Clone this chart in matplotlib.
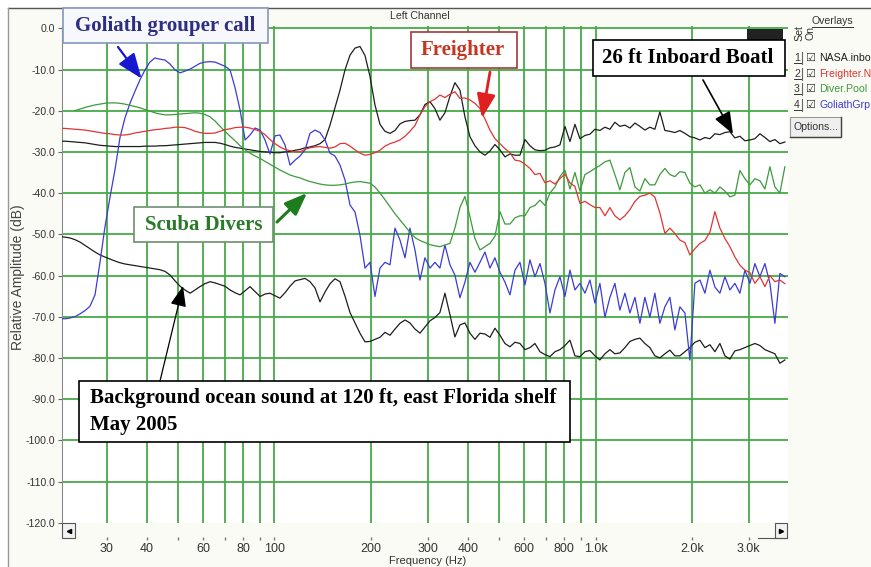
import matplotlib
matplotlib.use('Agg')
from matplotlib import pyplot as plt
from matplotlib.patches import Rectangle

plt.rcParams['font.family'] = ['Liberation Sans', 'DejaVu Sans']

W, H = 871, 567

# frequency bins (Hz) shared by all overlays
freq = [21.8, 22.3, 23.1, 23.9, 24.8, 25.7, 26.6, 27.6, 28.6, 29.6,
        30.7, 31.9, 33.0, 34.2, 35.5, 36.8, 38.1, 39.5, 40.9, 42.4,
        44.0, 45.6, 47.3, 49.0, 50.8, 52.6, 54.6, 56.6, 58.6, 60.7,
        63.0, 65.3, 67.7, 70.1, 72.7, 75.4, 78.1, 81.0, 83.9, 87.0,
        90.2, 93.4, 96.8, 100.4, 104.0, 107.8, 111.8, 115.9, 120.1, 124.5,
        129.0, 133.7, 138.6, 143.7, 148.9, 154.3, 160.0, 165.8, 171.9, 178.2,
        184.6, 191.4, 198.4, 205.6, 213.1, 220.9, 229.0, 237.3, 246.0, 255.0,
        264.2, 273.9, 283.9, 294.2, 305.0, 316.1, 327.6, 339.6, 352.0, 364.8,
        378.2, 392.0, 406.3, 421.1, 436.6, 452.5, 469.0, 486.1, 504.0, 522.3,
        541.4, 561.2, 581.6, 602.9, 624.9, 647.7, 671.4, 695.9, 721.3, 747.6,
        774.9, 803.2, 832.5, 862.9, 894.4, 927.1, 960.9, 996.0, 1032, 1070,
        1109, 1149, 1191, 1235, 1280, 1327, 1375, 1425, 1477, 1531,
        1587, 1645, 1705, 1767, 1832, 1899, 1968, 2040, 2115, 2192,
        2272, 2355, 2441, 2530, 2622, 2718, 2817, 2920, 3027, 3137,
        3252, 3371, 3494, 3621, 3753, 3890]

# relative amplitude (dB)
boat = [-27.4, -27.4, -27.5, -27.6, -27.7, -27.8, -28.0, -28.2, -28.4, -28.5,
        -28.6, -28.7, -28.7, -28.7, -28.7, -28.7, -28.7, -28.6, -28.6, -28.6,
        -28.5, -28.5, -28.4, -28.3, -28.2, -28.1, -28.0, -27.9, -27.8, -27.7,
        -27.7, -27.7, -27.9, -28.2, -28.6, -28.9, -29.1, -29.3, -29.5, -29.7,
        -29.9, -30.0, -30.1, -30.2, -30.2, -30.0, -29.9, -29.6, -29.4, -29.0,
        -28.8, -28.5, -28.0, -27.0, -23.5, -19.3, -15.0, -10.1, -6.5, -4.8,
        -4.4, -6.6, -11.7, -18.6, -23.3, -25.0, -25.5, -24.8, -23.2, -22.6,
        -22.4, -22.3, -21.0, -18.5, -17.8, -19.5, -22.3, -20.5, -16.5, -13.2,
        -15.0, -21.5, -26.3, -28.5, -30.0, -30.8, -29.8, -28.2, -29.5, -31.2,
        -30.5, -30.8, -30.8, -27.0, -28.5, -29.5, -29.7, -29.6, -29.0, -28.8,
        -28.3, -23.8, -27.5, -23.3, -26.8, -26.0, -25.7, -24.5, -24.8, -24.0,
        -24.5, -22.8, -23.8, -23.5, -24.2, -23.0, -23.8, -24.7, -24.0, -24.5,
        -20.3, -24.8, -25.0, -25.3, -24.8, -25.5, -26.3, -26.6, -27.1, -26.5,
        -26.8, -25.6, -25.8, -25.3, -25.1, -26.6, -26.2, -27.3, -27.1, -26.8,
        -25.6, -26.5, -27.5, -27.0, -28.0, -27.6]

freighter = [-24.3, -24.3, -24.4, -24.5, -24.6, -24.7, -24.9, -25.1, -25.3, -25.5,
             -25.6, -25.8, -25.9, -25.9, -25.7, -25.4, -25.2, -25.0, -24.8, -24.6,
             -24.5, -24.3, -24.2, -24.0, -24.0, -24.1, -24.5, -25.0, -25.3, -25.5,
             -25.5, -25.4, -25.0, -24.6, -24.4, -24.1, -24.0, -24.0, -24.2, -24.6,
             -25.0, -25.8, -27.0, -28.0, -28.8, -29.4, -29.7, -30.0, -30.0, -29.4,
             -29.0, -28.8, -28.7, -28.9, -29.1, -28.8, -28.0, -27.9, -28.6, -29.5,
             -30.3, -30.8, -30.6, -30.2, -29.6, -28.6, -28.0, -27.6, -27.1, -26.2,
             -25.0, -23.6, -21.0, -19.0, -17.8, -17.2, -16.2, -16.8, -16.0, -15.4,
             -17.0, -16.9, -17.4, -18.2, -19.5, -22.0, -24.7, -26.8, -28.0, -29.2,
             -30.2, -32.0, -32.2, -33.0, -34.0, -35.5, -35.2, -37.5, -37.0, -37.8,
             -36.5, -35.4, -37.5, -38.4, -42.5, -42.0, -42.8, -43.5, -43.5, -45.5,
             -43.5, -45.5, -46.5, -45.5, -44.0, -42.0, -40.8, -40.5, -40.0, -41.0,
             -44.8, -49.8, -48.5, -49.8, -51.4, -52.0, -55.0, -53.5, -52.2, -51.5,
             -49.5, -44.5, -48.5, -51.0, -53.0, -55.5, -57.5, -58.7, -59.3, -61.9,
             -60.3, -62.7, -60.0, -61.5, -61.1, -62.0]

nan = float('nan')
divers = [nan, nan, nan, -20.0, -19.6, -19.2, -18.9, -18.6, -18.4, -18.2,
          -18.1, -18.1, -18.2, -18.4, -18.7, -19.0, -19.3, -19.7, -20.1, -20.5,
          -20.8, -21.0, -21.0, -20.9, -20.8, -20.7, -20.6, -20.5, -20.6, -20.9,
          -21.5, -22.5, -23.8, -25.0, -26.2, -27.3, -28.5, -29.5, -30.3, -31.0,
          -31.6, -32.3, -33.0, -33.7, -34.4, -35.0, -35.6, -36.0, -36.3, -36.8,
          -37.2, -37.5, -37.8, -38.0, -38.1, -38.1, -38.0, -37.8, -37.5, -37.3,
          -37.2, -37.4, -37.6, -38.5, -40.0, -41.6, -43.3, -45.0, -46.5, -48.0,
          -49.5, -50.8, -51.5, -52.0, -52.5, -52.8, -53.0, -52.6, -52.2, -48.5,
          -43.5, -40.8, -45.7, -51.0, -53.8, -53.0, -52.2, -50.5, -44.5, -47.5,
          -47.5, -46.0, -45.5, -45.5, -43.5, -43.0, -41.7, -43.0, -40.0, -38.5,
          -36.0, -34.4, -39.0, -35.0, -39.5, -35.5, -34.8, -34.0, -33.3, -32.4,
          -32.0, -35.5, -39.2, -35.0, -33.8, -38.5, -39.5, -36.5, -38.0, -38.0,
          -35.5, -34.0, -35.5, -36.0, -34.8, -35.0, -37.6, -38.5, -38.0, -40.0,
          -39.2, -40.0, -38.5, -39.5, -40.9, -40.5, -34.5, -36.5, -38.0, -36.5,
          -37.0, -39.0, -33.6, -38.5, -40.0, -33.6]

grouper = [-70.5, -70.5, -70.3, -70.0, -69.3, -68.5, -67.5, -64.7, -56.8, -48.5,
           -41.2, -34.0, -26.6, -21.8, -18.1, -15.2, -12.5, -10.1, -8.2, -7.2,
           -7.5, -7.7, -8.7, -10.1, -10.8, -10.4, -9.9, -9.2, -8.5, -8.2,
           -8.1, -8.2, -8.7, -9.2, -10.1, -14.5, -19.8, -27.1, -25.9, -24.2,
           -24.7, -27.1, -30.5, -26.1, -25.9, -28.3, -33.2, -32.0, -31.0, -29.5,
           -25.5, -24.7, -25.3, -27.1, -30.3, -31.0, -33.2, -36.8, -42.9, -44.6,
           -50.2, -58.2, -56.8, -65.1, -58.2, -56.8, -57.4, -48.5, -51.4, -55.7,
           -48.5, -53.8, -61.1, -55.7, -58.2, -56.8, -58.2, -52.6, -57.4, -59.9,
           -65.4, -61.6, -56.8, -59.2, -56.8, -54.3, -58.2, -55.7, -59.2, -61.6,
           -64.7, -58.7, -56.8, -62.3, -56.2, -60.3, -57.1, -61.9, -69.1, -63.5,
           -60.3, -65.1, -58.7, -63.5, -61.9, -64.3, -61.1, -66.7, -61.9, -70.1,
           -65.3, -61.9, -68.4, -64.3, -69.1, -65.3, -71.6, -65.3, -70.1, -64.3,
           -71.6, -67.6, -65.3, -73.2, -67.6, -69.1, -80.5, -61.9, -61.1, -64.3,
           -58.7, -62.8, -64.3, -60.3, -63.5, -61.9, -64.3, -58.7, -61.9, -57.1,
           -60.3, -57.1, -61.9, -71.6, -59.5, -60.3]

background = [-50.6, -50.7, -50.9, -51.3, -51.9, -52.7, -53.5, -54.3, -55.0, -55.5,
              -56.0, -56.5, -56.9, -57.2, -57.4, -57.6, -57.8, -58.0, -58.2, -58.4,
              -58.6, -59.0, -59.9, -61.3, -62.6, -63.5, -64.3, -63.5, -62.7, -62.0,
              -61.5, -61.8, -62.2, -62.6, -63.5, -64.2, -64.7, -63.7, -62.7, -63.9,
              -65.1, -64.5, -64.3, -64.9, -65.5, -64.2, -62.6, -61.3, -61.0, -60.7,
              -61.5, -63.0, -66.4, -64.0, -62.0, -60.8, -61.5, -65.0, -69.0, -71.5,
              -74.0, -76.1, -76.0, -75.5, -75.0, -73.8, -74.5, -73.0, -71.6, -70.8,
              -71.5, -73.0, -74.0, -72.5, -71.0, -70.2, -69.0, -64.3, -69.5, -74.9,
              -72.0, -71.5, -74.0, -75.5, -74.0, -74.2, -75.0, -72.8, -74.5, -76.5,
              -77.3, -76.2, -76.5, -78.0, -77.5, -76.5, -78.5, -79.2, -79.7, -78.5,
              -78.0, -77.0, -75.7, -79.5, -79.7, -78.5, -78.2, -79.5, -80.5, -79.0,
              -78.0, -79.0, -78.8, -77.5, -76.0, -75.5, -75.2, -76.5, -77.5, -79.5,
              -80.0, -79.0, -78.1, -79.5, -79.5, -78.5, -77.5, -76.2, -75.7, -77.5,
              -76.8, -78.5, -76.5, -79.5, -80.3, -78.3, -78.0, -77.5, -77.0, -76.5,
              -77.0, -78.0, -78.5, -79.0, -81.3, -80.5]

y_ticks = list(range(0, -130, -10))
x_ticks = [30, 40, 50, 60, 70, 80, 90, 100, 200, 300, 400, 500, 600, 700, 800, 900, 1000, 2000, 3000]
x_labels = ['30', '40', '', '60', '', '80', '', '100', '200', '300', '400', '', '600', '', '800', '', '1.0k', '2.0k', '3.0k']
overlays = ['NASA.inbo', 'Freighter.N', 'Diver.Pool', 'GoliathGrp']

GRID = '#46ab46'
BLUE, RED, GREEN, BLACK = '#3b3bd6', '#e03434', '#3c9a3c', '#1e1e1e'

fig = plt.figure(figsize=(W / 100, H / 100), dpi=100, facecolor='#fbfbf5')

def fx(x):
    return x / W

def fy(y):
    return 1 - y / H

ax = fig.add_axes([fx(62), fy(522.7), fx(788) - fx(62), fy(26) - fy(522.7)])
ax.set_facecolor('white')
ax.set_xscale('log')
ax.set_xlim(21.78, 3978)
ax.set_ylim(-120, 0.56)

for v in y_ticks[:-1]:
    ax.axhline(v, color=GRID, lw=1.3, zorder=1)
for f in x_ticks:
    ax.axvline(f, color=GRID, lw=1.3, zorder=1)

ax.plot(freq, background, color=BLACK, lw=0.9, zorder=3)
ax.plot(freq, boat, color=BLACK, lw=0.9, zorder=3)
ax.plot(freq, grouper, color=BLUE, lw=0.9, zorder=4)
ax.plot(freq, divers, color=GREEN, lw=0.9, zorder=4)
ax.plot(freq, freighter, color=RED, lw=0.9, zorder=5)

ax.set_yticks(y_ticks, labels=[f'{v:.1f}' for v in y_ticks])
ax.set_xticks(x_ticks, labels=x_labels)
ax.minorticks_off()
ax.tick_params(axis='y', length=3, width=0.8, color='#666', labelsize=7.6, labelcolor='#333', pad=2)
ax.tick_params(axis='x', direction='in', length=2, width=1, color='#777', labelsize=9, labelcolor='#333', pad=2)
for side in ['top', 'right']:
    ax.spines[side].set_visible(False)
ax.spines['bottom'].set_position(('outward', 12.5))
ax.spines['bottom'].set_color('none')
ax.spines['left'].set_color('#8a8a8a')

fig.text(fx(420), fy(16), 'Left Channel', fontsize=7.6, color='#333', ha='center', va='center')
fig.text(fx(428), fy(561), 'Frequency (Hz)', fontsize=8, color='#333', ha='center', va='center')
fig.text(fx(18), fy(277), 'Relative Amplitude (dB)', fontsize=10, color='#444', rotation=90, ha='center', va='center')

# overlay in screen pixels for the window chrome and the annotations
ov = fig.add_axes([0, 0, 1, 1])
ov.set_xlim(0, W)
ov.set_ylim(H, 0)
ov.axis('off')

ov.add_patch(Rectangle((0, 0), W, 7, fc='white', ec='none'))
ov.add_patch(Rectangle((0, 0), 8, H, fc='white', ec='none'))
ov.plot([8, W], [7.5, 7.5], color='#555', lw=1)
ov.plot([8, 8], [7.5, H], color='#999', lw=1)

# scroll buttons
ov.add_patch(Rectangle((62, 523), 13, 15, fc='#f2f2f2', ec='#555', lw=0.8))
ov.plot([68.5], [530.5], marker='<', ms=3, color='black')
ov.plot([758, 787], [538, 538], color='#555', lw=0.8)
ov.add_patch(Rectangle((775, 523), 12, 15, fc='#f2f2f2', ec='#555', lw=0.8))
ov.plot([781], [530.5], marker='>', ms=3, color='black')

# small toolbar icon partly hidden by the boat label
ov.add_patch(Rectangle((747, 29), 36, 11, fc='#222', ec='none'))

# overlays panel
ov.text(832, 21, 'Overlays', fontsize=7.6, color='#333', ha='center', va='center')
ov.plot([812, 853], [27, 27], color='#333', lw=0.7)
ov.text(799, 33, 'Set', fontsize=7.6, color='#333', rotation=90, ha='center', va='center')
ov.text(810, 33, 'On', fontsize=7.6, color='#333', rotation=90, ha='center', va='center')
for i, (name, col) in enumerate(zip(overlays, [BLACK, RED, GREEN, BLUE])):
    y = 58 + i * 15.7
    ov.text(797, y, str(i + 1), fontsize=7.6, color='#333', ha='center', va='center')
    ov.plot([794, 801], [y + 5, y + 5], color='#333', lw=0.7)
    ov.plot([802, 802], [y - 6, y + 6], color='#666', lw=0.8)
    ov.text(810, y, '\u2611', fontsize=8, color='#333', ha='center', va='center', family='DejaVu Sans')
    ov.text(819, y, name, fontsize=7.6, color=col, ha='left', va='center')
ov.add_patch(Rectangle((790, 117), 51, 20, fc='#efefef', ec='#999', lw=0.8))
ov.plot([790, 841, 841], [137, 137, 117], color='#444', lw=1)
ov.text(815.5, 127, 'Options...', fontsize=7.6, color='#333', ha='center', va='center')

# annotation boxes
serif = dict(family='Liberation Serif', fontweight='bold', fontsize=15, va='center')

ov.add_patch(Rectangle((63, 8), 205, 35, fc='#f7f8fc', ec='#8796bb', lw=1.2, zorder=6))
ov.text(165.5, 26, 'Goliath grouper call', color='#2d2d82', ha='center', zorder=7, **serif)

ov.add_patch(Rectangle((411, 32), 106, 36, fc='white', ec='#a33a3a', lw=1.2, zorder=6))
ov.text(463, 50, 'Freighter', color='#c4361f', ha='center', zorder=7, **serif)

ov.add_patch(Rectangle((593, 40), 192, 36, fc='white', ec='black', lw=1.2, zorder=6))
ov.text(688, 58, '26 ft Inboard Boatl', color='black', ha='center', zorder=7, **serif)

ov.add_patch(Rectangle((134, 207), 139, 35, fc='white', ec='#6f8f6f', lw=1.2, zorder=6))
ov.text(203.5, 224.5, 'Scuba Divers', color='#2a7a2a', ha='center', zorder=7, **serif)

ov.add_patch(Rectangle((79, 381), 491, 61, fc='white', ec='black', lw=1.2, zorder=6))
ov.text(90, 398, 'Background ocean sound at 120 ft, east Florida shelf', color='black', ha='left', zorder=7, **serif)
ov.text(90, 425, 'May 2005', color='black', ha='left', zorder=7, **serif)

# arrows
def arrow(tail, tip, color, lw, scale):
    ov.annotate('', xy=tip, xytext=tail, zorder=8,
                arrowprops=dict(arrowstyle='-|>,head_length=0.9,head_width=0.35',
                                color=color, lw=lw, mutation_scale=scale, shrinkA=0, shrinkB=0))

arrow((118, 47), (141.5, 78.5), '#1717d0', 1.6, 17)
arrow((490, 72), (482, 118), '#e02020', 2.0, 16)
arrow((703, 80), (733, 134), 'black', 1.2, 15)
arrow((277, 222), (307, 193), '#1d7d1d', 2.2, 15)
arrow((160, 381), (183, 286), 'black', 0.9, 14)

fig.savefig('out.png', dpi=100, facecolor=fig.get_facecolor())
